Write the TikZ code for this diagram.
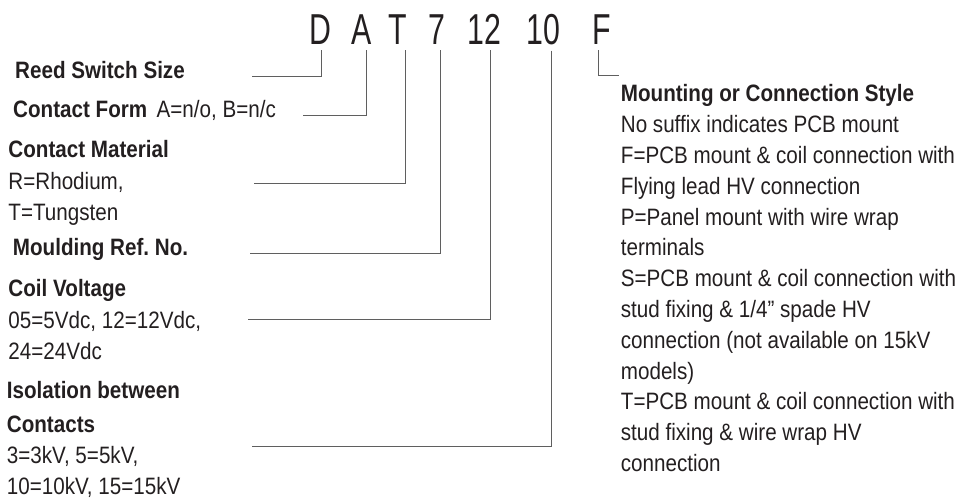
\documentclass[tikz,border=0pt]{standalone}
\usepackage{fontspec}
\setmainfont{Liberation Sans}[FakeStretch=0.87]
\newfontfamily\codefont{Liberation Sans}[FakeStretch=0.7]
\usepackage{xcolor}
\definecolor{inkdark}{RGB}{35,31,32}
\definecolor{leadgray}{RGB}{95,95,95}
\frenchspacing

\begin{document}
\begin{tikzpicture}[x=1pt, y=-1pt,
  partcode/.style={anchor=base, inner xsep=0pt, inner ysep=5.7pt, text=inkdark,
    font=\codefont\fontsize{43.3}{50}\selectfont},
  keytext/.style={anchor=north west, inner sep=0pt, align=left, text=inkdark,
    font=\fontsize{23.7}{30.8}\selectfont},
  leadline/.style={draw=leadgray, line width=1pt}]
  \useasboundingbox (0,0) rectangle (978,498);
  % Part number
  \node[partcode] (codeD) at (320.8,44.3) {D};
  \node[partcode] (codeA) at (361.2,44.3) {A};
  \node[partcode] (codeT) at (397.3,44.3) {T};
  \node[partcode] (code7) at (436.8,44.3) {7};
  \node[partcode] (code12) at (484.8,44.3) {12};
  \node[partcode] (code10) at (543.5,44.3) {10};
  \node[partcode] (codeF) at (601.5,44.3) {F};
  % Key texts
  \node[keytext] (reedSize) at (15,56.4) {\strut\textbf{Reed Switch Size}};
  \node[keytext] (contactForm) at (13,95.4) {\strut\textbf{Contact Form}\hspace{0.4em}A=n/o, B=n/c};
  \node[keytext] (contactMat) at (8.3,135.4) {\strut\textbf{Contact Material}\\[2pt]
    R=Rhodium,\\ T=Tungsten};
  \node[keytext] (mouldRef) at (12.7,233.4) {\strut\textbf{Moulding Ref. No.}};
  \node[keytext] (coilVolt) at (8.3,274.4) {\strut\textbf{Coil Voltage}\\[2pt]
    05=5Vdc, 12=12Vdc,\\ 24=24Vdc};
  \node[keytext] (isolation) at (6.7,376.4) {\strut\textbf{Isolation between}\\[4pt]
    \textbf{Contacts}\\ 3=3kV, 5=5kV,\\ 10=10kV, 15=15kV};
  \node[keytext] (mounting) at (620.7,80.1) {\strut\textbf{Mounting or Connection Style}\\
    No suffix indicates PCB mount\\
    F=PCB mount \& coil connection with\\
    Flying lead HV connection\\
    P=Panel mount with wire wrap\\
    terminals\\
    S=PCB mount \& coil connection with\\
    stud fixing \& 1/4” spade HV\\
    connection (not available on 15kV\\
    models)\\
    T=PCB mount \& coil connection with\\
    stud fixing \& wire wrap HV\\
    connection};
  % Leader lines
  \coordinate (reedEnd) at (252,76);
  \coordinate (formEnd) at (303,115.7);
  \coordinate (matEnd) at (254,183.6);
  \coordinate (mouldEnd) at (250,253);
  \coordinate (coilEnd) at (248,319);
  \coordinate (isoEnd) at (252,446);
  \coordinate (mountEnd) at (619.3,75.7);
  \draw[leadline] ([xshift=0.9pt]codeD.south) |- (reedEnd);
  \draw[leadline] ([xshift=4.8pt]codeA.south) |- (formEnd);
  \draw[leadline] ([xshift=8pt]codeT.south) |- (matEnd);
  \draw[leadline] ([xshift=3.5pt]code7.south) |- (mouldEnd);
  \draw[leadline] ([xshift=5.9pt]code12.south) |- (coilEnd);
  \draw[leadline] ([xshift=8.2pt]code10.south) |- (isoEnd);
  \draw[leadline] ([xshift=-3.2pt]codeF.south) |- (mountEnd);
\end{tikzpicture}
\end{document}
